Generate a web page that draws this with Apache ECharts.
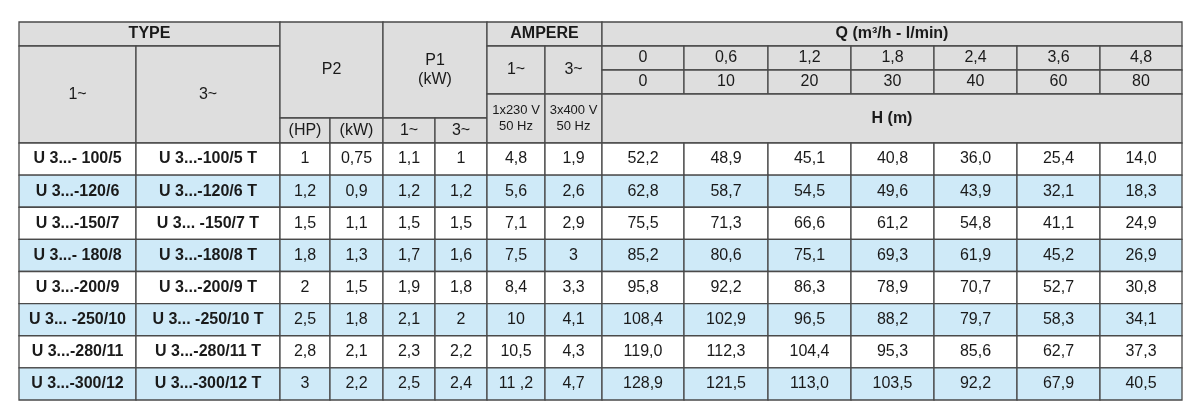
<!DOCTYPE html>
<html><head><meta charset="utf-8">
<script src="https://cdn.jsdelivr.net/npm/echarts@6/dist/echarts.min.js"></script>
<style>html,body{margin:0;padding:0;background:#fff}#c{width:1200px;height:418px}</style>
</head><body><div id="c"></div>
<script>
// ---- data ----
const type1 = ["U 3...- 100/5","U 3...-120/6","U 3...-150/7","U 3...- 180/8","U 3...-200/9","U 3... -250/10","U 3...-280/11","U 3...-300/12"];
const type3 = ["U 3...-100/5 T","U 3...-120/6 T","U 3... -150/7 T","U 3...-180/8 T","U 3...-200/9 T","U 3... -250/10 T","U 3...-280/11 T","U 3...-300/12 T"];
const p2HP = ["1","1,2","1,5","1,8","2","2,5","2,8","3"];
const p2kW = ["0,75","0,9","1,1","1,3","1,5","1,8","2,1","2,2"];
const p1Single = ["1,1","1,2","1,5","1,7","1,9","2,1","2,3","2,5"];
const p1Three = ["1","1,2","1,5","1,6","1,8","2","2,2","2,4"];
const ampSingle = ["4,8","5,6","7,1","7,5","8,4","10","10,5","11 ,2"];
const ampThree = ["1,9","2,6","2,9","3","3,3","4,1","4,3","4,7"];
const qM3h = ["0","0,6","1,2","1,8","2,4","3,6","4,8"];
const qLmin = ["0","10","20","30","40","60","80"];
const head = [
 ["52,2","48,9","45,1","40,8","36,0","25,4","14,0"],
 ["62,8","58,7","54,5","49,6","43,9","32,1","18,3"],
 ["75,5","71,3","66,6","61,2","54,8","41,1","24,9"],
 ["85,2","80,6","75,1","69,3","61,9","45,2","26,9"],
 ["95,8","92,2","86,3","78,9","70,7","52,7","30,8"],
 ["108,4","102,9","96,5","88,2","79,7","58,3","34,1"],
 ["119,0","112,3","104,4","95,3","85,6","62,7","37,3"],
 ["128,9","121,5","113,0","103,5","92,2","67,9","40,5"]
];
// ---- layout (column edges / row edges in axis units) ----
const X = [19,136,280,330,383,435,487,545,602,684,768,851,934,1017,1100,1182];
const Y = [22,46,70,94,118,143];
const rowH = (400-143)/8;
const cells = [];
function cell(c0,c1,r0,r1,text,kind){cells.push([X[c0],X[c1],r0,r1,text,kind]);}
// header
cell(0,2,Y[0],Y[1],"TYPE","hb");
cell(0,1,Y[1],Y[5],"1~","h");
cell(1,2,Y[1],Y[5],"3~","h");
cell(2,4,Y[0],Y[4],"P2","h");
cell(2,3,Y[4],Y[5],"(HP)","h");
cell(3,4,Y[4],Y[5],"(kW)","h");
cell(4,6,Y[0],Y[4],"P1\n(kW)","h");
cell(4,5,Y[4],Y[5],"1~","h");
cell(5,6,Y[4],Y[5],"3~","h");
cell(6,8,Y[0],Y[1],"AMPERE","hb");
cell(6,7,Y[1],Y[3],"1~","h");
cell(7,8,Y[1],Y[3],"3~","h");
cell(6,7,Y[3],Y[5],"1x230 V\n50 Hz","hs");
cell(7,8,Y[3],Y[5],"3x400 V\n50 Hz","hs");
cell(8,15,Y[0],Y[1],"Q (m³/h - l/min)","hb");
qM3h.forEach((v,i)=>cell(8+i,9+i,Y[1],Y[2],v,"h"));
qLmin.forEach((v,i)=>cell(8+i,9+i,Y[2],Y[3],v,"h"));
cell(8,15,Y[3],Y[5],"H (m)","hb");
// body
for(let r=0;r<8;r++){
  const y0=143+r*rowH, y1=y0+rowH, k=r%2?"b":"w";
  const vals=[type1[r],type3[r],p2HP[r],p2kW[r],p1Single[r],p1Three[r],ampSingle[r],ampThree[r],...head[r]];
  vals.forEach((v,i)=>cell(i,i+1,y0,y1,v,(i<2?"t":"")+k));
}
const fills={h:"#dedede",hb:"#dedede",hs:"#dedede"};
const chart=echarts.init(document.getElementById('c'));
chart.setOption({
  animation:false,
  grid:{left:0,right:0,top:0,bottom:0},
  xAxis:{type:'value',min:0,max:1200,show:false},
  yAxis:{type:'value',min:0,max:418,inverse:true,show:false},
  series:[{
    type:'custom',
    data:cells,
    encode:{x:[0,1],y:[2,3]},
    renderItem:function(params,api){
      const d=cells[params.dataIndex];
      const p0=api.coord([d[0],d[2]]), p1=api.coord([d[1],d[3]]);
      const kind=d[5];
      let fill=fills[kind]||(kind.endsWith("b")?"#cfeaf8":"#ffffff");
      const bold=kind==="hb"||kind.startsWith("t");
      const size=kind==="hs"?13:(kind.startsWith("t")?16:16);
      return {type:'group',children:[
        {type:'rect',shape:{x:p0[0],y:p0[1],width:p1[0]-p0[0],height:p1[1]-p0[1]},
         style:{fill:fill,stroke:"#4a4a4a",lineWidth:1.3}},
        {type:'text',style:{text:d[4],x:(p0[0]+p1[0])/2,y:(p0[1]+p1[1])/2,
          align:'center',verticalAlign:'middle',fill:'#1a1a1a',
          font:(bold?'bold ':'')+size+'px "Liberation Sans Narrow","Liberation Sans",Arial',lineHeight:size+3}}
      ]};
    }
  }]
});
</script></body></html>
